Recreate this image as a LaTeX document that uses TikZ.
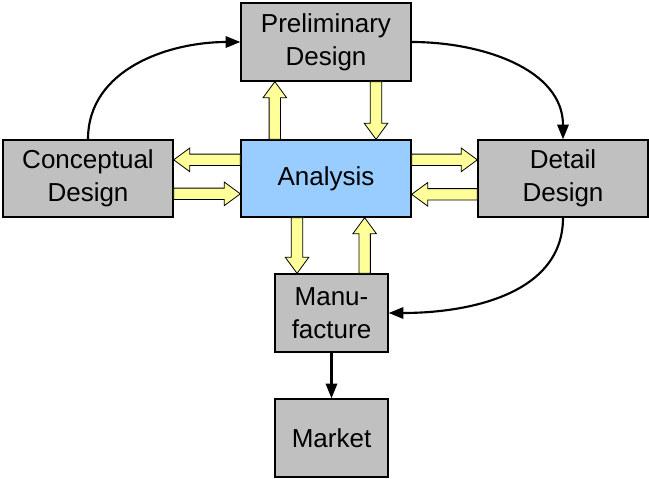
\documentclass[tikz,border=0pt]{standalone}
\usepackage{fontspec}
\setmainfont{Liberation Sans}
\usetikzlibrary{arrows.meta,calc}

% broad outlined block arrow from #1 to #2
\newcommand\blockarrow[2]{%
  \draw[blockarr] let \p1=(#1), \p2=(#2),
    \n1={atan2(\y2-\y1,\x2-\x1)}, \n2={veclen(\x2-\x1,\y2-\y1)} in
    [shift={(\p1)}, rotate=\n1]
    (0pt,-4.3pt) -- (\n2-12pt,-4.3pt) -- (\n2-12pt,-8.8pt) -- (\n2,0pt)
    -- (\n2-12pt,8.8pt) -- (\n2-12pt,4.3pt) -- (0pt,4.3pt) -- cycle;}

\begin{document}
\begin{tikzpicture}[x=0.75pt,y=-0.75pt,
  box/.style={draw=black, line width=1pt, fill=boxgray, align=center,
    inner sep=0pt, font=\fontsize{19.5}{25}\selectfont},
  blockarr/.style={draw=black, line width=0.6pt, fill=arrowyellow, line join=miter},
  flow/.style={draw=black, line width=1.6pt, -{Triangle[length=11pt,width=8.5pt]}}]
\definecolor{boxgray}{HTML}{C0C0C0}
\definecolor{anablue}{HTML}{99CCFF}
\definecolor{arrowyellow}{HTML}{FFFF99}

\useasboundingbox (0,0) rectangle (649,478);

\node[box, minimum width=127.5pt, minimum height=58.5pt] (pre) at (326,42) {Preliminary\\Design};
\node[box, minimum width=127.5pt, minimum height=57.75pt] (con) at (88,178.5) {Conceptual\\Design};
\node[box, fill=anablue, minimum width=127.5pt, minimum height=57.75pt] (ana) at (326,178.5) {Analysis};
\node[box, minimum width=127.5pt, minimum height=57.75pt] (det) at (563,178.5) {Detail\\Design};
\node[box, minimum width=84.75pt, minimum height=58.5pt] (man) at (331.5,313) {Manu-\\facture};
\node[box, minimum width=84.75pt, minimum height=58.5pt] (mar) at (331.5,438) {Market};

% exchanges with the analysis block
\blockarrow{$(ana.north west)+(34.5,0)$}{$(pre.south west)+(34.5,0)$}
\blockarrow{$(pre.south west)+(135.7,0)$}{$(ana.north west)+(135.7,0)$}
\blockarrow{$(ana.north west)+(0,20.5)$}{$(con.north east)+(0,20.5)$}
\blockarrow{$(con.north east)+(0,54.5)$}{$(ana.north west)+(0,54.5)$}
\blockarrow{$(ana.north east)+(0,20.5)$}{$(det.north west)+(0,20.5)$}
\blockarrow{$(det.north west)+(0,55)$}{$(ana.north east)+(0,55)$}
\blockarrow{$(ana.south west)+(56.7,0)$}{$(man.north west)+(22.7,0)$}
\blockarrow{$(man.north west)+(90.3,0)$}{$(ana.south west)+(124.3,0)$}

% main design sequence
\draw[flow] (con.north) to[out=90,in=180] (pre.west);
\draw[flow] (pre.east) to[out=0,in=90] (det.north);
\draw[flow] (det.south) to[out=-90,in=0] (man.east);
\draw[flow] (man.south) -- (mar.north);
\end{tikzpicture}
\end{document}
